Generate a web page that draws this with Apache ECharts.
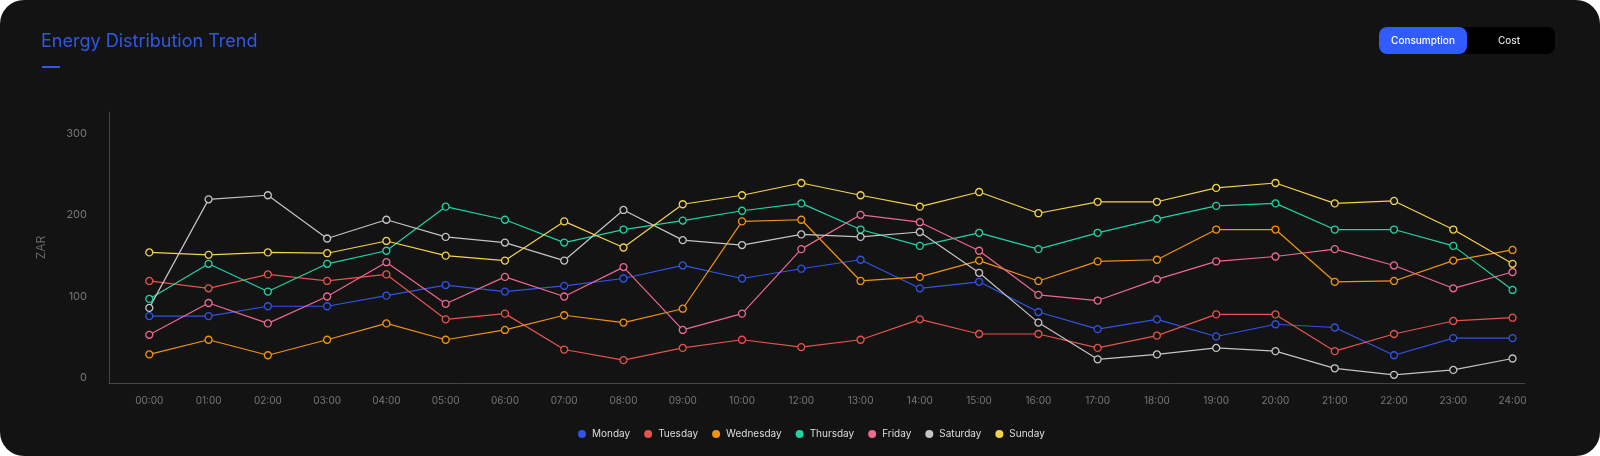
<!DOCTYPE html>
<html>
<head>
<meta charset="utf-8">
<title>Energy Distribution Trend</title>
<script src="https://cdn.jsdelivr.net/npm/echarts@6.0.0/dist/echarts.min.js"></script>
<style>
    html, body { margin: 0; padding: 0; background: #ffffff; }
    #chart {
        width: 1600px;
        height: 456px;
        background: #131313;
        border-radius: 24px;
        overflow: hidden;
    }
</style>
</head>
<body>
<div id="chart"></div>
<script>
// hourly categories (the source skips 11:00)
var hours = ['00:00', '01:00', '02:00', '03:00', '04:00', '05:00', '06:00', '07:00',
    '08:00', '09:00', '10:00', '12:00', '13:00', '14:00', '15:00', '16:00',
    '17:00', '18:00', '19:00', '20:00', '21:00', '22:00', '23:00', '24:00'];
var yTicks = [0, 100, 200, 300];

var monday    = [76, 76, 88, 88, 101, 114, 106, 113, 122, 138, 122, 134, 145, 110, 118, 81, 60, 72, 51, 66, 62, 28, 49, 49];
var tuesday   = [119, 110, 127, 119, 127, 72, 79, 35, 22, 37, 47, 38, 47, 72, 54, 54, 37, 52, 78, 78, 33, 54, 70, 74];
var wednesday = [29, 47, 28, 47, 67, 47, 59, 77, 68, 85, 192, 194, 119, 124, 144, 119, 143, 145, 182, 182, 118, 119, 144, 157];
var thursday  = [97, 140, 106, 140, 156, 210, 194, 166, 182, 193, 205, 214, 182, 162, 178, 158, 178, 195, 211, 214, 182, 182, 162, 108];
var friday    = [53, 92, 67, 100, 142, 91, 124, 100, 136, 59, 79, 158, 200, 191, 156, 102, 95, 121, 143, 149, 158, 138, 110, 130];
var saturday  = [86, 219, 224, 171, 194, 173, 166, 144, 206, 169, 163, 176, 173, 179, 129, 68, 23, 29, 37, 33, 12, 4, 10, 24];
var sunday    = [154, 151, 154, 153, 168, 150, 144, 192, 160, 213, 224, 239, 224, 210, 228, 202, 216, 216, 233, 239, 214, 217, 182, 140];

var seriesNames = ['Monday', 'Tuesday', 'Wednesday', 'Thursday', 'Friday', 'Saturday', 'Sunday'];
var seriesValues = [monday, tuesday, wednesday, thursday, friday, saturday, sunday];
var colors = ['#3154e6', '#e5544c', '#f2930f', '#21d3a3', '#ec6a8e', '#c4c4c4', '#f3d34c'];

(function () {
    var bg = '#131313';
    var font = 'Inter, "DejaVu Sans", sans-serif';
    var myChart = echarts.init(document.getElementById('chart'));

    var series = seriesNames.map(function (name, k) {
        return {
            name: name,
            type: 'line',
            data: seriesValues[k].map(function (v, i) { return [i, v]; }),
            symbol: 'circle',
            symbolSize: 7,
            lineStyle: { color: colors[k], width: 1.2 },
            itemStyle: { color: bg, borderColor: colors[k], borderWidth: 1.3 },
            emphasis: { disabled: true }
        };
    });

    var option = {
        backgroundColor: 'transparent',
        textStyle: { fontFamily: font },
        title: {
            text: 'Energy Distribution Trend',
            left: 36,
            top: 28,
            textStyle: { color: '#3358e0', fontSize: 18, fontWeight: 'normal', fontFamily: font }
        },
        graphic: [
            { type: 'rect', left: 42, top: 66, shape: { width: 18, height: 2 }, style: { fill: '#3358e0' } },
            { type: 'rect', left: 1379, top: 27, shape: { width: 176, height: 27, r: 8 }, style: { fill: '#000000' } },
            { type: 'rect', left: 1379, top: 27, shape: { width: 88, height: 27, r: 8 }, style: { fill: '#2f5bff' } },
            {
                type: 'text', x: 1423, y: 40.5,
                style: { text: 'Consumption', fill: '#ffffff', fontSize: 10, fontFamily: font, fontWeight: 500, align: 'center', verticalAlign: 'middle' }
            },
            {
                type: 'text', x: 1509, y: 40.5,
                style: { text: 'Cost', fill: '#dddddd', fontSize: 10, fontFamily: font, fontWeight: 500, align: 'center', verticalAlign: 'middle' }
            }
        ],
        legend: {
            left: 573,
            top: 424,
            icon: 'circle',
            itemWidth: 8,
            itemHeight: 8,
            itemGap: 14,
            selectedMode: false,
            textStyle: { color: '#dddddd', fontSize: 10, fontFamily: font, padding: [0, 0, 0, 1] },
            data: seriesNames.map(function (n, k) {
                return { name: n, itemStyle: { color: colors[k], borderWidth: 0 } };
            })
        },
        grid: { left: 109, right: 75, top: 112, bottom: 73 },
        xAxis: {
            type: 'value',
            min: -0.68,
            max: 23.21,
            axisLine: { show: true, onZero: false, lineStyle: { color: '#454545' } },
            axisTick: { show: false },
            splitLine: { show: false },
            axisLabel: {
                customValues: hours.map(function (h, i) { return i; }),
                formatter: function (v) { return hours[v]; },
                color: '#777777',
                fontSize: 10,
                margin: 13
            }
        },
        yAxis: {
            type: 'value',
            min: -6,
            max: 326,
            name: 'ZAR',
            nameLocation: 'middle',
            nameGap: 62,
            nameTextStyle: { color: '#666666', fontSize: 12 },
            axisLine: { show: true, onZero: false, lineStyle: { color: '#454545' } },
            axisTick: { show: false },
            splitLine: { show: false },
            axisLabel: {
                customValues: yTicks,
                color: '#777777',
                fontSize: 11,
                margin: 22
            }
        },
        series: series
    };
    myChart.setOption(option);
    window.addEventListener('resize', function () {
        myChart.resize();
    });
})();
</script>
</body>
</html>
